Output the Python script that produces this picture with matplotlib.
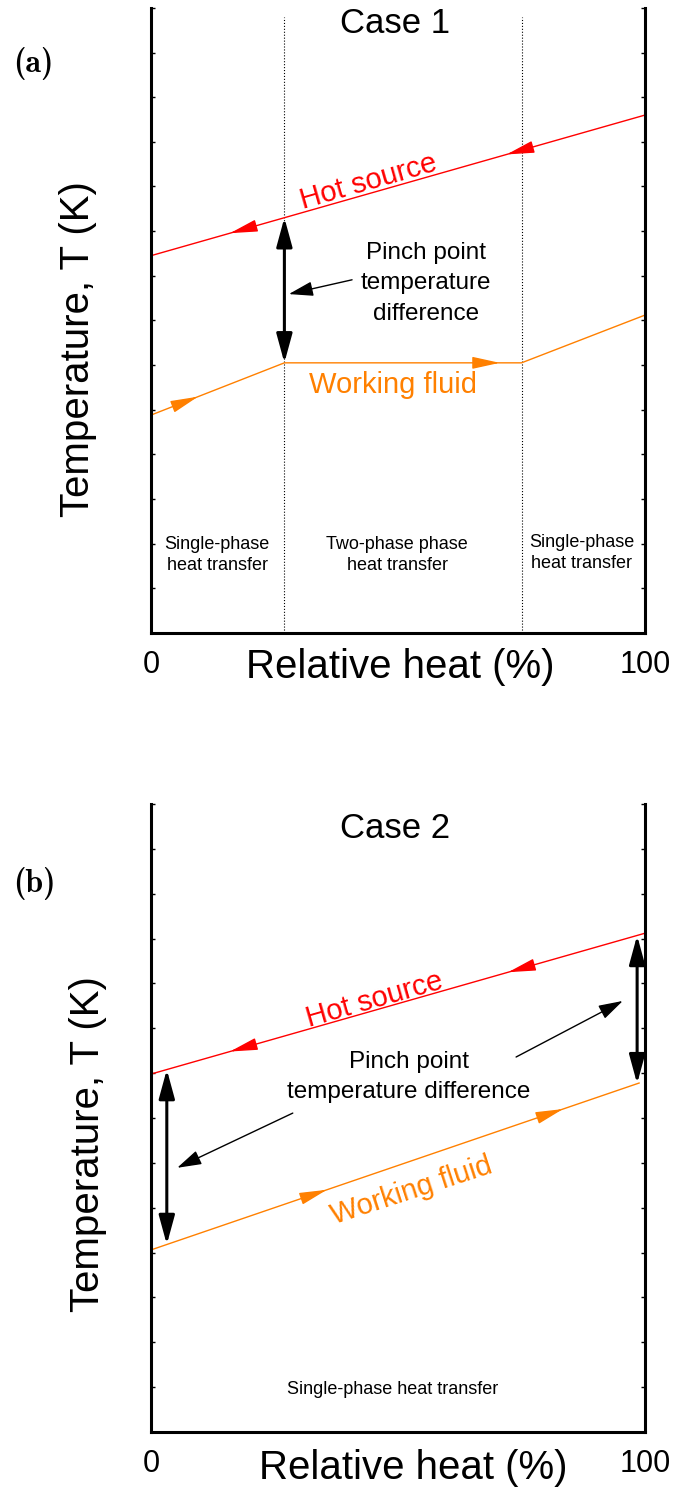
import numpy as np
import matplotlib.pyplot as plt

plt.rcParams['font.family'] = ['Liberation Sans', 'DejaVu Sans']

# relative heat (%) vs temperature (arbitrary, 0..14)
heat_hot_a = [0, 100]
temp_hot_a = [8.45, 11.60]
heat_wf_a = [0, 27, 75, 100]
temp_wf_a = [4.88, 6.05, 6.05, 7.12]
phase_bounds_a = [27, 75]

heat_hot_b = [0, 100]
temp_hot_b = [7.98, 11.12]
heat_wf_b = [0, 98.8]
temp_wf_b = [4.06, 7.78]

# arrowheads along the curves, (tail, tip) in % heat
hot_heads_a = [(20.5, 16.0), (76.5, 72.0)]
wf_heads_a = [(5.3, 9.5), (66.0, 70.6)]
hot_heads_b = [(20.6, 16.0), (76.7, 72.3)]
wf_heads_b = [(31.2, 35.6), (79.1, 83.4)]

# pinch point locations (% heat)
pinch_a = [27]
pinch_b = [3.2, 98.4]

# leader arrows from the pinch text, ((x0, y0), (x1, y1))
leaders_a = [((40.7, 7.91), (27.9, 7.59))]
leaders_b = [((28.7, 7.11), (5.3, 5.89)), ((73.9, 8.36), (95.5, 9.61))]

HOT = '#ff0000'
WF = '#ff8000'


def flow_heads(ax, heads, xs, ys, color):
    for tail, tip in heads:
        ax.annotate('', xy=(tip, np.interp(tip, xs, ys)),
                    xytext=(tail, np.interp(tail, xs, ys)),
                    arrowprops=dict(arrowstyle='-|>,head_length=1.0,head_width=0.22',
                                    mutation_scale=17, color=color, lw=1,
                                    shrinkA=0, shrinkB=0))


def setup(ax):
    ax.set_xlim(0, 100)
    ax.set_ylim(0, 14)
    ax.spines['top'].set_visible(False)
    for s in ['left', 'right', 'bottom']:
        ax.spines[s].set_linewidth(2.2)
    ax.set_yticks(np.arange(0, 15))
    ax.set_yticklabels([])
    ax.tick_params(axis='y', direction='in', length=3, width=1, left=True, right=True)
    ax.set_xticks([0, 100])
    ax.set_xticklabels(['0', '100'])
    ax.tick_params(axis='x', length=0, labelsize=22, pad=12)
    ax.set_xlabel('Relative heat (%)', fontsize=29)
    ax.set_ylabel('Temperature, T (K)', fontsize=29)
    ax.xaxis.label.set_verticalalignment('center')
    ax.yaxis.label.set_verticalalignment('center')


def pinch(ax, xs_p, hx, hy, wx, wy):
    for x in xs_p:
        ax.annotate('', xy=(x, np.interp(x, hx, hy)), xytext=(x, np.interp(x, wx, wy)),
                    arrowprops=dict(arrowstyle='<|-|>,head_length=1.1,head_width=0.3',
                                    mutation_scale=16, lw=2.2, color='k',
                                    shrinkA=0, shrinkB=0))


fig = plt.figure(figsize=(6.75, 14.9), dpi=100)
ax_a = fig.add_axes([0.2237, 0.5752, 0.7319, 0.4195])
ax_b = fig.add_axes([0.2237, 0.0389, 0.7319, 0.4215])

# ---- (a) Case 1
ax = ax_a
setup(ax)
ax.xaxis.set_label_coords(0.504, -0.055)
ax.yaxis.set_label_coords(-0.147, 0.454)
for xb in phase_bounds_a:
    ax.axvline(xb, ymax=0.985, color='k', ls=':', lw=0.8)
ax.plot(heat_hot_a, temp_hot_a, color=HOT, lw=1)
ax.plot(heat_wf_a, temp_wf_a, color=WF, lw=1)
flow_heads(ax, hot_heads_a, heat_hot_a, temp_hot_a, HOT)
flow_heads(ax, wf_heads_a, heat_wf_a, temp_wf_a, WF)
pinch(ax, pinch_a, heat_hot_a, temp_hot_a, heat_wf_a, temp_wf_a)
for (x0, y0), (x1, y1) in leaders_a:
    ax.annotate('', xy=(x1, y1), xytext=(x0, y0),
                arrowprops=dict(arrowstyle='-|>,head_length=1.0,head_width=0.3',
                                mutation_scale=15, lw=1, color='k', shrinkA=0, shrinkB=0))
ax.text(55.7, 7.83, 'Pinch point\ntemperature\ndifference', fontsize=17.5,
        ha='center', va='center', linespacing=1.5)
ax.text(44.1, 10.1, 'Hot source', color=HOT, fontsize=21, rotation=16,
        ha='center', va='center', rotation_mode='anchor')
ax.text(49.0, 5.56, 'Working fluid', color=WF, fontsize=21, ha='center', va='center')
ax.text(49.4, 13.64, 'Case 1', fontsize=25, ha='center', va='center')
ax.text(13.4, 1.75, 'Single-phase\nheat transfer', fontsize=13, ha='center', va='center',
        linespacing=1.3)
ax.text(49.8, 1.75, 'Two-phase phase\nheat transfer', fontsize=13, ha='center', va='center',
        linespacing=1.3)
ax.text(87.2, 1.8, 'Single-phase\nheat transfer', fontsize=13, ha='center', va='center',
        linespacing=1.3)

# ---- (b) Case 2
ax = ax_b
setup(ax)
ax.xaxis.set_label_coords(0.530, -0.058)
ax.yaxis.set_label_coords(-0.127, 0.459)
ax.plot(heat_hot_b, temp_hot_b, color=HOT, lw=1)
ax.plot(heat_wf_b, temp_wf_b, color=WF, lw=1)
flow_heads(ax, hot_heads_b, heat_hot_b, temp_hot_b, HOT)
flow_heads(ax, wf_heads_b, heat_wf_b, temp_wf_b, WF)
pinch(ax, pinch_b, heat_hot_b, temp_hot_b, heat_wf_b, temp_wf_b)
for (x0, y0), (x1, y1) in leaders_b:
    ax.annotate('', xy=(x1, y1), xytext=(x0, y0),
                arrowprops=dict(arrowstyle='-|>,head_length=1.0,head_width=0.3',
                                mutation_scale=15, lw=1, color='k', shrinkA=0, shrinkB=0))
ax.text(52.2, 7.92, 'Pinch point\ntemperature difference', fontsize=17.5,
        ha='center', va='center', linespacing=1.5)
ax.text(45.3, 9.63, 'Hot source', color=HOT, fontsize=21, rotation=16,
        ha='center', va='center', rotation_mode='anchor')
ax.text(52.8, 5.39, 'Working fluid', color=WF, fontsize=21, rotation=18,
        ha='center', va='center', rotation_mode='anchor')
ax.text(49.4, 13.46, 'Case 2', fontsize=25, ha='center', va='center')
ax.text(49.0, 0.94, 'Single-phase heat transfer', fontsize=13, ha='center', va='center')

# panel letters in Computer Modern bold (shipped with matplotlib)
fig.text(33 / 675, 1 - 64 / 1490, '(a)', family=['cmb10', 'DejaVu Serif'],
         fontsize=23, ha='center', va='center')
fig.text(34 / 675, 1 - 884 / 1490, '(b)', family=['cmb10', 'DejaVu Serif'],
         fontsize=23, ha='center', va='center')

fig.savefig('out.png', dpi=100)
